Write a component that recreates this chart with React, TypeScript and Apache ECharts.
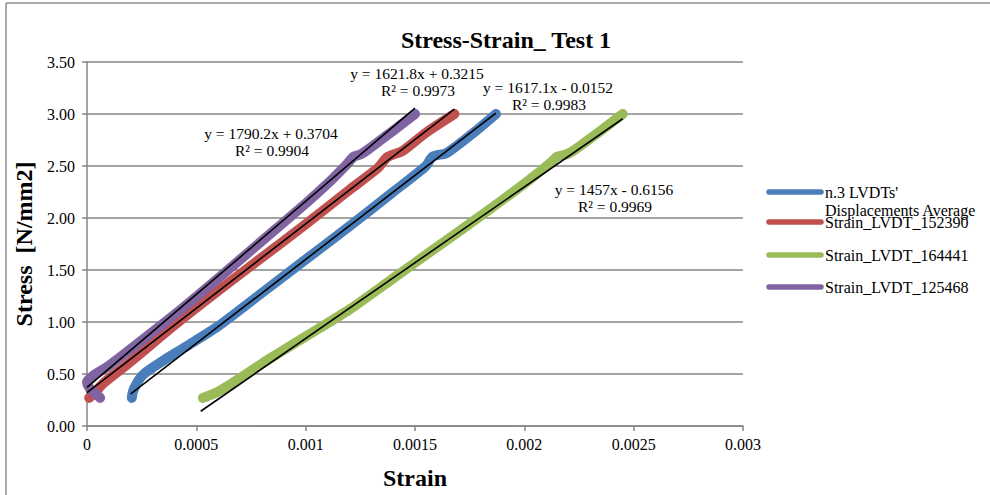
import React, { useEffect, useRef } from "react";
import * as echarts from "echarts";

const seriesNames = [
  "n.3 LVDTs'\nDisplacements Average",
  "Strain_LVDT_152390",
  "Strain_LVDT_164441",
  "Strain_LVDT_125468",
];
const seriesColors = ["#4A7EBB", "#C0504D", "#9BBB59", "#8064A2"];

const avgData: [number, number][] = [
  [0.000205, 0.27], [0.00021, 0.33], [0.00023, 0.42], [0.00026, 0.5], [0.00035, 0.63],
  [0.00045, 0.76], [0.0006, 0.96], [0.0008, 1.28], [0.001, 1.6], [0.0012, 1.92],
  [0.0014, 2.25], [0.00155, 2.5], [0.00158, 2.59], [0.00164, 2.62], [0.00167, 2.66],
  [0.00178, 2.84], [0.00187, 3.0],
];
const lvdt152390: [number, number][] = [
  [0.00001, 0.27], [0.00003, 0.31], [0.00008, 0.42], [0.0002, 0.62], [0.0004, 0.97],
  [0.0006, 1.3], [0.0008, 1.62], [0.001, 1.94], [0.0012, 2.27], [0.00133, 2.48],
  [0.00137, 2.58], [0.0014, 2.61], [0.00144, 2.64], [0.00155, 2.82], [0.00168, 3.0],
];
const lvdt164441: [number, number][] = [
  [0.00053, 0.27], [0.0006, 0.33], [0.0007, 0.46], [0.0008, 0.6], [0.0009, 0.73],
  [0.001, 0.86], [0.0012, 1.12], [0.0014, 1.42], [0.0016, 1.72], [0.0018, 2.02],
  [0.002, 2.33], [0.00212, 2.53], [0.00215, 2.59], [0.00219, 2.61], [0.00222, 2.64],
  [0.00235, 2.84], [0.00245, 3.0],
];
const lvdt125468: [number, number][] = [
  [0.00006, 0.27], [0.00004, 0.31], [0.00001, 0.37], [0.0, 0.42], [0.0001, 0.58],
  [0.0002, 0.74], [0.0004, 1.07], [0.0006, 1.42], [0.0008, 1.78], [0.001, 2.14],
  [0.0011, 2.33], [0.00119, 2.52], [0.00122, 2.59], [0.00125, 2.61], [0.00128, 2.65],
  [0.0014, 2.84], [0.0015, 3.0],
];

// trendlines: slope, intercept, x range
const trendSlopes = [1617.1, 1621.8, 1457, 1790.2];
const trendIntercepts = [-0.0152, 0.3215, -0.6156, 0.3704];
const trendRanges: [number, number][] = [
  [0.0002, 0.00187],
  [0.0, 0.00168],
  [0.00052, 0.00245],
  [0.0, 0.0015],
];
const trendLabels = [
  ["y = 1617.1x - 0.0152", "R² = 0.9983"],
  ["y = 1621.8x + 0.3215", "R² = 0.9973"],
  ["y = 1457x - 0.6156", "R² = 0.9969"],
  ["y = 1790.2x + 0.3704", "R² = 0.9904"],
];
const trendLabelPos: [number, number][] = [
  [548, 87],
  [417, 73],
  [614, 189],
  [271, 133],
];

const yTicks = { min: 0, max: 3.5, interval: 0.5 };
const xTicks = { min: 0, max: 0.003, interval: 0.0005 };

const FONT = "'Liberation Serif', 'Times New Roman', serif";

export default function App() {
  const ref = useRef<HTMLDivElement>(null);
  useEffect(() => {
    if (!ref.current) return;
    const chart = echarts.init(ref.current, null, { renderer: "svg" });
    const datasets = [avgData, lvdt152390, lvdt164441, lvdt125468];
    const dataSeries = datasets.map((d, i) => ({
      type: "line",
      name: seriesNames[i],
      data: d,
      symbol: "none",
      smooth: 0.25,
      lineStyle: { color: seriesColors[i], width: 10, cap: "round", join: "round" },
      z: 2,
    }));
    const trendSeries = trendSlopes.map((m, i) => {
      const [a, b] = trendRanges[i];
      return {
        type: "line",
        name: "trend" + i,
        data: [
          [a, m * a + trendIntercepts[i]],
          [b, m * b + trendIntercepts[i]],
        ],
        symbol: "none",
        lineStyle: { color: "#000", width: 1.6 },
        z: 3,
      };
    });
    const graphics: any[] = [
      { type: "line", shape: { x1: 6, y1: 3, x2: 990, y2: 3 }, style: { stroke: "#8c8c8c", lineWidth: 1.5 } },
      { type: "line", shape: { x1: 6, y1: 3, x2: 6, y2: 495 }, style: { stroke: "#8c8c8c", lineWidth: 1.5 } },
    ];
    trendLabels.forEach((lab, i) => {
      const [cx, cy] = trendLabelPos[i];
      graphics.push({
        type: "text",
        x: cx,
        y: cy,
        style: { text: lab[0], font: `15.5px ${FONT}`, fill: "#000", align: "center", verticalAlign: "middle" },
        z: 10,
      });
      graphics.push({
        type: "text",
        x: cx + 1,
        y: cy + 17,
        style: { text: lab[1], font: `15.5px ${FONT}`, fill: "#000", align: "center", verticalAlign: "middle" },
        z: 10,
      });
    });
    const legendY = [192, 222, 255, 287];
    const legendText = [["n.3 LVDTs'", "Displacements Average"], ["Strain_LVDT_152390"], ["Strain_LVDT_164441"], ["Strain_LVDT_125468"]];
    legendY.forEach((y, i) => {
      graphics.push({
        type: "line",
        shape: { x1: 769, y1: y, x2: 821, y2: y },
        style: { stroke: seriesColors[i], lineWidth: 5.5, lineCap: "round" },
      });
      legendText[i].forEach((t, j) => {
        graphics.push({
          type: "text",
          x: 825,
          y: y + j * 18,
          style: { text: t, font: `16px ${FONT}`, fill: "#000", verticalAlign: "middle" },
        });
      });
    });

    chart.setOption({
      animation: false,
      backgroundColor: "#fff",
      title: {
        text: "Stress-Strain_ Test 1",
        left: 501,
        top: 23,
        textAlign: "center",
        textStyle: { fontFamily: FONT, fontSize: 24, fontWeight: "bold", color: "#000" },
      },
      grid: { left: 87, right: 247, top: 62, bottom: 65 },
      xAxis: {
        type: "value",
        min: xTicks.min,
        max: xTicks.max,
        interval: xTicks.interval,
        name: "Strain",
        nameLocation: "middle",
        nameGap: 40,
        nameTextStyle: { fontFamily: FONT, fontSize: 24, fontWeight: "bold", color: "#000" },
        axisLine: { lineStyle: { color: "#868686", width: 1.5 } },
        axisTick: { show: true, length: 5, lineStyle: { color: "#868686", width: 1.5 } },
        axisLabel: {
          fontFamily: FONT,
          fontSize: 16,
          color: "#000",
          margin: 10,
          formatter: (v: number) => String(parseFloat(v.toPrecision(6))),
        },
        splitLine: { show: false },
      },
      yAxis: {
        type: "value",
        min: yTicks.min,
        max: yTicks.max,
        interval: yTicks.interval,
        name: "Stress  [N/mm2]",
        nameLocation: "middle",
        nameGap: 48,
        nameTextStyle: { fontFamily: FONT, fontSize: 24, fontWeight: "bold", color: "#000" },
        axisLine: { show: true, lineStyle: { color: "#868686", width: 1.5 } },
        axisTick: { show: true, length: 5, lineStyle: { color: "#868686", width: 1.5 } },
        axisLabel: {
          fontFamily: FONT,
          fontSize: 16,
          color: "#000",
          margin: 12,
          formatter: (v: number) => v.toFixed(2),
        },
        splitLine: { show: true, lineStyle: { color: "#868686", width: 1.5 } },
      },
      graphic: graphics,
      series: [...dataSeries, ...trendSeries],
    });
    return () => chart.dispose();
  }, []);
  return (
    <div
      ref={ref}
      style={{ position: "absolute", left: 0, top: 0, width: 990, height: 495 }}
    />
  );
}
